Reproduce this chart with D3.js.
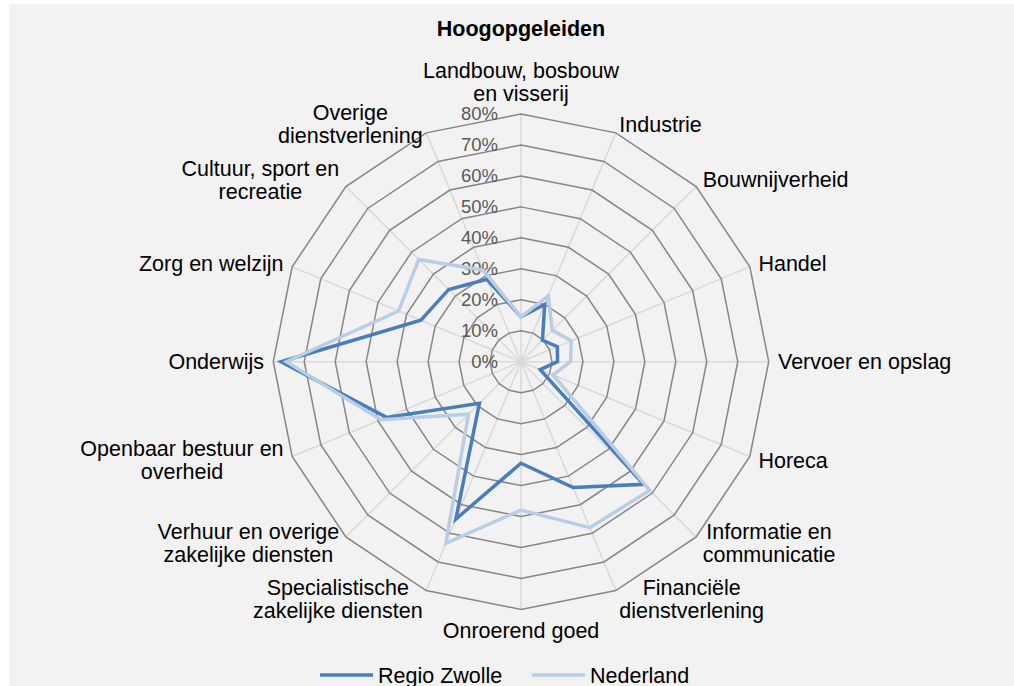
<!DOCTYPE html>
<html>
<head>
<meta charset="utf-8">
<script src="https://cdn.jsdelivr.net/npm/d3@7"></script>
<style>
  body { margin: 0; background: #fff; }
  text { font-family: "Liberation Sans", Arial, sans-serif; }
</style>
</head>
<body>
<div id="chart-area"></div>
<script>
/*
*    radar - Hoogopgeleiden
*/

var categories = [
    "Landbouw, bosbouw|en visserij", "Industrie", "Bouwnijverheid", "Handel",
    "Vervoer en opslag", "Horeca", "Informatie en|communicatie",
    "Financiële|dienstverlening", "Onroerend goed",
    "Specialistische|zakelijke diensten", "Verhuur en overige|zakelijke diensten",
    "Openbaar bestuur en|overheid", "Onderwijs", "Zorg en welzijn",
    "Cultuur, sport en|recreatie", "Overige|dienstverlening"
];
var zwolle    = [14.5, 20, 9.8, 12.7, 11.8, 6.7, 56, 44, 32.8, 55, 19, 47, 77.5, 35, 33, 28.8];
var nederland = [14.5, 23, 14.3, 17.6, 16, 11.2, 58.8, 58, 47.9, 63.5, 24, 49, 75.8, 42.8, 46.7, 32];
var ticks = [0, 10, 20, 30, 40, 50, 60, 70, 80];
var seriesNames = ["Regio Zwolle", "Nederland"];
var colors = ["#4a7ebb", "#b9cde5"];

var W = 1014, H = 686;
var cx = 521, cy = 361.7;
var fs = 21.5, lh = 23;

var svg = d3.select("#chart-area")
    .append("svg")
    .attr("width", W)
    .attr("height", H);

svg.append("rect")
    .attr("x", 9).attr("y", 4)
    .attr("width", W - 9).attr("height", H - 4)
    .attr("fill", "#f2f2f2");

var r = d3.scaleLinear().domain([0, 80]).range([0, 247.7]);
var angle = d3.scaleLinear().domain([0, categories.length]).range([0, 2 * Math.PI]);

function pt(i, v) {
    var a = angle(i);
    return [cx + r(v) * Math.sin(a), cy - r(v) * Math.cos(a)];
}

var g = svg.append("g");

// spokes
g.selectAll(".spoke").data(categories).enter()
    .append("line")
        .attr("x1", cx).attr("y1", cy)
        .attr("x2", (d, i) => pt(i, 80)[0])
        .attr("y2", (d, i) => pt(i, 80)[1])
        .attr("stroke", "#d9d9d9")
        .attr("stroke-width", 1.5);

// rings
g.selectAll(".ring").data(ticks.slice(1)).enter()
    .append("polygon")
        .attr("points", (t) => categories.map((c, i) => pt(i, t).join(",")).join(" "))
        .attr("fill", "none")
        .attr("stroke", "#868686")
        .attr("stroke-width", 1.5);

// tick labels
g.selectAll(".tick").data(ticks).enter()
    .append("text")
        .attr("x", cx - 23)
        .attr("y", (t) => cy - r(t))
        .attr("dy", "0.35em")
        .attr("text-anchor", "end")
        .attr("font-size", 18.5)
        .attr("fill", "#595959")
        .text((t) => t + "%");

// series
var line = d3.line().curve(d3.curveLinearClosed);
[zwolle, nederland].forEach((vals, s) => {
    g.append("path")
        .attr("d", line(vals.map((v, i) => pt(i, v))))
        .attr("fill", "none")
        .attr("stroke", colors[s])
        .attr("stroke-width", 3.5)
        .attr("stroke-linejoin", "miter");
});

// category labels
categories.forEach((c, i) => {
    var lines = c.split("|");
    var p = pt(i, 80 * 257 / 247.7);
    var a = angle(i) * 180 / Math.PI;
    var t = svg.append("text")
        .attr("font-size", fs)
        .attr("fill", "#000")
        .attr("text-anchor", "middle");
    var spans = lines.map((l) => t.append("tspan").text(l));
    var w = d3.max(spans, (s) => s.node().getComputedTextLength());
    var blockH = lines.length * lh;
    var x, yc;
    if (Math.abs(a) < 1) { x = p[0]; yc = p[1] - blockH / 2; }
    else if (Math.abs(a - 180) < 1) { x = p[0]; yc = p[1] + blockH / 2; }
    else if (a < 180) { x = p[0] + w / 2; yc = p[1]; }
    else { x = p[0] - w / 2; yc = p[1]; }
    spans.forEach((s, k) => {
        s.attr("x", x)
         .attr("y", yc - (lines.length - 1) * lh / 2 + k * lh + 0.35 * fs);
    });
});

// title
svg.append("text")
    .attr("x", cx).attr("y", 36)
    .attr("text-anchor", "middle")
    .attr("font-size", fs)
    .attr("font-weight", "bold")
    .text("Hoogopgeleiden");

// legend
var legX = [320, 532];
seriesNames.forEach((n, s) => {
    svg.append("line")
        .attr("x1", legX[s]).attr("x2", legX[s] + 53)
        .attr("y1", 675).attr("y2", 675)
        .attr("stroke", colors[s])
        .attr("stroke-width", 3.5);
    svg.append("text")
        .attr("x", legX[s] + 58).attr("y", 682.5)
        .attr("font-size", fs)
        .text(n);
});
</script>
</body>
</html>
